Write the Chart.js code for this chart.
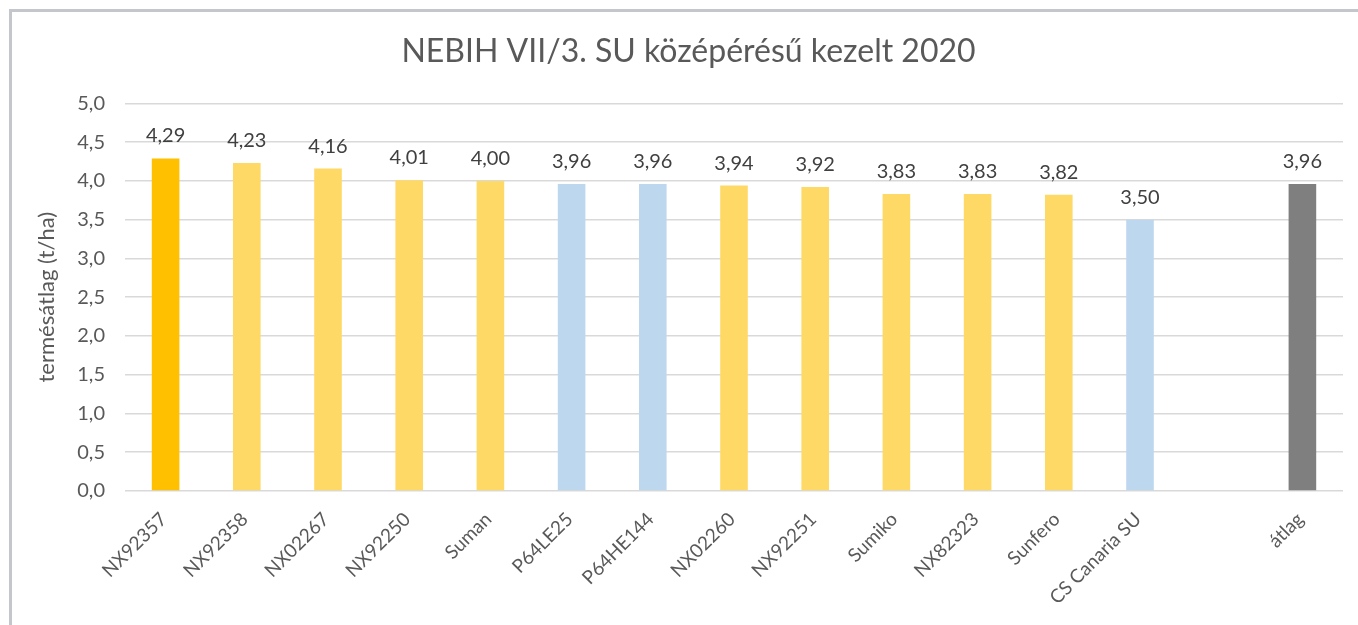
<!DOCTYPE html>
<html>
<head>
<meta charset="utf-8">
<script src="https://cdn.jsdelivr.net/npm/chart.js@4"></script>
<style>
    html, body {
        margin: 0;
        padding: 0;
        width: 1358px;
        height: 625px;
        overflow: hidden;
        background: #ffffff;
    }
    .frame {
        position: absolute;
        left: 9px;
        top: 9px;
        width: 1400px;
        height: 700px;
        border: 3px solid #c3c6ca;
    }
    .chart-box {
        position: absolute;
        left: 0;
        top: 0;
        width: 1358px;
        height: 625px;
    }
</style>
</head>
<body>
<div class="frame"></div>
<div class="chart-box">
    <canvas id="yieldChart" width="1358" height="625"></canvas>
</div>
<script>
// Data
const categories = ['NX92357', 'NX92358', 'NX02267', 'NX92250', 'Suman', 'P64LE25', 'P64HE144',
    'NX02260', 'NX92251', 'Sumiko', 'NX82323', 'Sunfero', 'CS Canaria SU', '', 'átlag'];
const yields = [4.29, 4.23, 4.16, 4.01, 4.00, 3.96, 3.96, 3.94, 3.92, 3.83, 3.83, 3.82, 3.50, null, 3.96];
const yTicks = [0, 0.5, 1.0, 1.5, 2.0, 2.5, 3.0, 3.5, 4.0, 4.5, 5.0];

// Colours per bar
const GOLD = '#ffc000';
const YELLOW = '#ffd966';
const BLUE = '#bdd7ee';
const GREY = '#7f7f7f';
const barColors = [GOLD, YELLOW, YELLOW, YELLOW, YELLOW, BLUE, BLUE,
    YELLOW, YELLOW, YELLOW, YELLOW, YELLOW, BLUE, BLUE, GREY];

const fontFamily = 'Lato, "Open Sans", sans-serif';
const fmt = v => v.toFixed(2).replace('.', ',');

// Value labels above the bars
const valueLabels = {
    id: 'valueLabels',
    afterDatasetsDraw(chart) {
        const { ctx } = chart;
        const meta = chart.getDatasetMeta(0);
        ctx.save();
        ctx.font = '20px ' + fontFamily;
        ctx.fillStyle = '#404040';
        ctx.textAlign = 'center';
        ctx.textBaseline = 'alphabetic';
        meta.data.forEach((bar, i) => {
            const v = yields[i];
            if (v === null) return;
            ctx.fillText(fmt(v), bar.x, bar.y - 16);
        });
        ctx.restore();
    }
};

const ctx = document.getElementById('yieldChart');
new Chart(ctx, {
    type: 'bar',
    data: {
        labels: categories,
        datasets: [{
            data: yields,
            backgroundColor: barColors,
            categoryPercentage: 1,
            barPercentage: 0.34
        }]
    },
    options: {
        responsive: false,
        animation: false,
        devicePixelRatio: 1,
        layout: {
            padding: { left: 34, right: 15, top: 32, bottom: 0 }
        },
        plugins: {
            legend: { display: false },
            tooltip: { enabled: false },
            title: {
                display: true,
                text: 'NEBIH VII/3. SU középérésű kezelt 2020',
                color: '#595959',
                font: { family: fontFamily, size: 32, weight: 'normal' },
                padding: { top: 0, bottom: 33 }
            }
        },
        scales: {
            y: {
                min: 0,
                max: 5,
                afterBuildTicks: scale => {
                    scale.ticks = yTicks.map(v => ({ value: v }));
                },
                afterFit: scale => {
                    scale.width = 91;
                },
                border: { display: false },
                grid: {
                    color: '#d9d9d9',
                    lineWidth: 1.5,
                    drawTicks: false
                },
                ticks: {
                    padding: 20,
                    color: '#595959',
                    font: { family: fontFamily, size: 20 },
                    callback: v => v.toFixed(1).replace('.', ',')
                },
                title: {
                    display: true,
                    text: 'termésátlag (t/ha)',
                    color: '#595959',
                    font: { family: fontFamily, size: 22 },
                    padding: { top: 0, bottom: 0 }
                }
            },
            x: {
                afterFit: scale => {
                    scale.height = 134;
                },
                border: { display: false },
                grid: { display: false },
                ticks: {
                    minRotation: 45,
                    maxRotation: 45,
                    autoSkip: false,
                    padding: 9,
                    labelOffset: -2,
                    color: '#595959',
                    font: { family: fontFamily, size: 19 }
                }
            }
        }
    },
    plugins: [valueLabels]
});
</script>
</body>
</html>
